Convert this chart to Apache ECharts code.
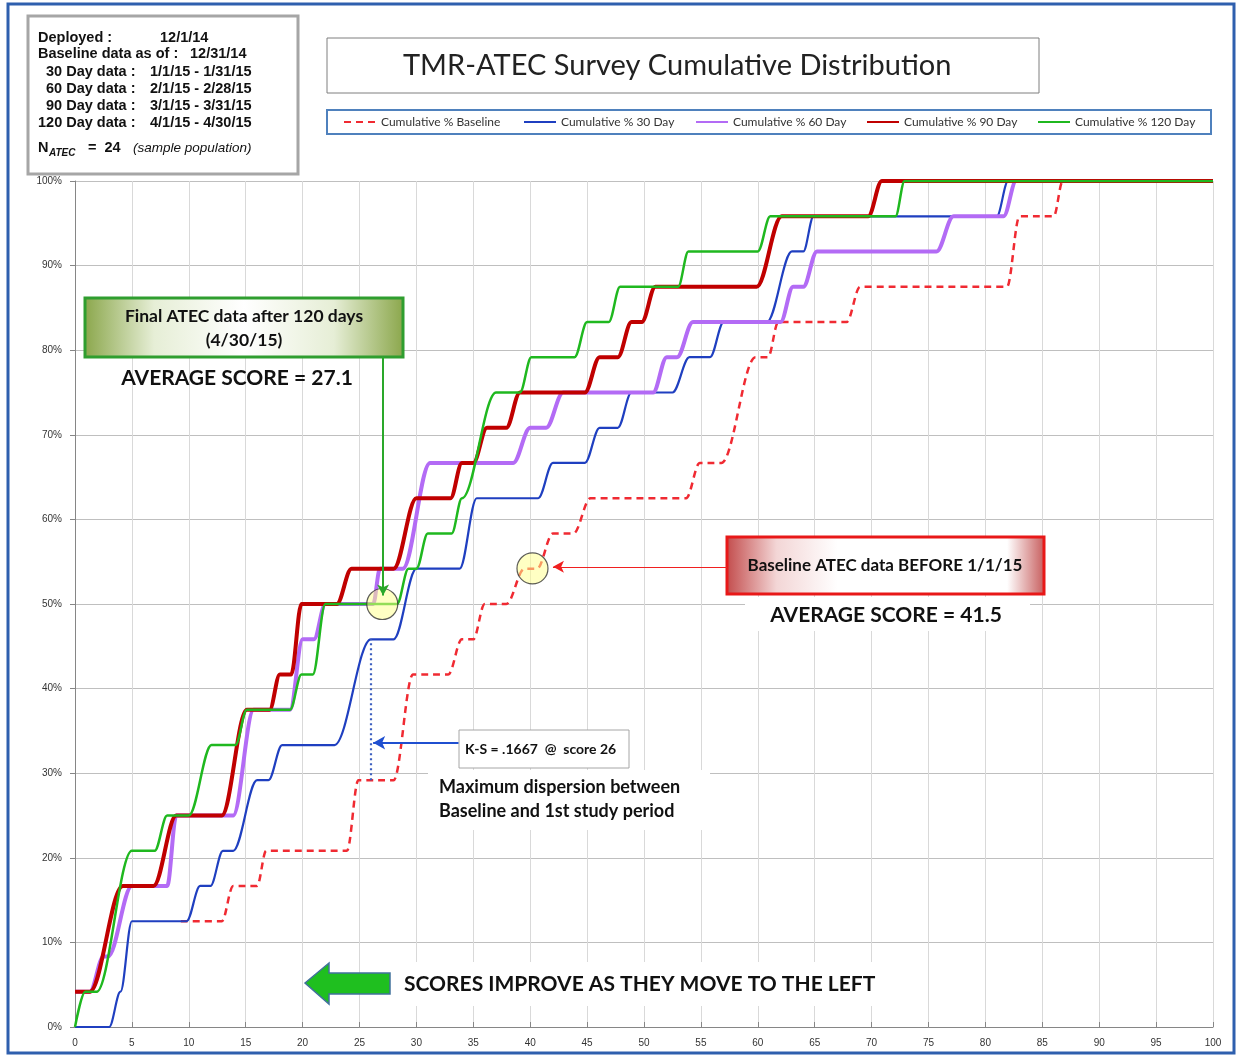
<!DOCTYPE html>
<html>
<head>
<meta charset="utf-8">
<title>TMR-ATEC Survey Cumulative Distribution</title>
<script src="https://cdn.jsdelivr.net/npm/echarts@6/dist/echarts.min.js"></script>
<style>
  body { margin: 0; background: #fff; }
  #main { width: 1237px; height: 1055px; }
</style>
</head>
<body>
<div id="main"></div>
<script>
// 图例名称
var seriesNames = ['Cumulative % Baseline', 'Cumulative % 30 Day', 'Cumulative % 60 Day', 'Cumulative % 90 Day', 'Cumulative % 120 Day'];

// [score, cumulative %] 读自原图（基线前段被30天曲线盖住，从可见处开始）
var baselinePts = [[9.3,12.5],[12.9,12.5],[13.9,16.67],[16,16.67],[16.8,20.83],[23.9,20.83],[24.9,29.17],[28,29.17],[29.7,41.67],[32.8,41.67],[34,45.83],[35,45.83],[36,50],[37.9,50],[39.5,54.17],[40.6,54.17],[42,58.33],[43.8,58.33],[45.3,62.5],[53.7,62.5],[54.9,66.67],[56.8,66.67],[59.8,79.17],[60.9,79.17],[61.8,83.33],[67.8,83.33],[69,87.5],[81.9,87.5],[83,95.83],[86,95.83],[86.8,100],[100,100]];
var day30Pts = [[0,0],[2.2,0],[3,0],[4,4.17],[5,12.5],[9.8,12.5],[11,16.67],[11.9,16.67],[13,20.83],[13.9,20.83],[16,29.17],[17,29.17],[18.2,33.33],[22.8,33.33],[26,45.83],[28,45.83],[30,54.17],[33.8,54.17],[35.3,62.5],[40.7,62.5],[42,66.67],[44.8,66.67],[46.1,70.83],[47.7,70.83],[48.9,75],[52.5,75],[54,79.17],[55.8,79.17],[57,83.33],[60.8,83.33],[63,91.67],[64,91.67],[64.9,95.83],[81,95.83],[82,100],[100,100]];
var day60Pts = [[0,4.17],[1.3,4.17],[2.5,8.33],[2.9,8.33],[5,16.67],[8.1,16.67],[8.9,25],[13.9,25],[15.7,37.5],[18.9,37.5],[20,45.83],[21,45.83],[22,50],[26.2,50],[26.8,54.17],[28.8,54.17],[31.2,66.67],[38.5,66.67],[40,70.83],[41.4,70.83],[42.9,75],[50.8,75],[52,79.17],[52.9,79.17],[54.3,83.33],[62,83.33],[63.1,87.5],[64,87.5],[65.2,91.67],[75.7,91.67],[77.2,95.83],[81.6,95.83],[82.7,100],[100,100]];
var day90Pts = [[0,4.17],[1.3,4.17],[4.2,16.67],[6.9,16.67],[8.9,25],[12.9,25],[15.1,37.5],[17.1,37.5],[18,41.67],[19,41.67],[19.9,50],[23,50],[24.3,54.17],[28,54.17],[30,62.5],[33,62.5],[34,66.67],[35,66.67],[36.2,70.83],[37.9,70.83],[39.1,75],[44.8,75],[46.1,79.17],[47.7,79.17],[48.9,83.33],[49.8,83.33],[51,87.5],[59.9,87.5],[62.1,95.83],[69.7,95.83],[70.9,100],[100,100]];
var day120Pts = [[0,0],[0.9,4.17],[1.9,4.17],[5,20.83],[7,20.83],[8.1,25],[10,25],[12,33.33],[14.1,33.33],[15.1,37.5],[18.9,37.5],[19.9,41.67],[20.9,41.67],[22,50],[28.3,50],[29.3,54.17],[30,54.17],[31,58.33],[33.1,58.33],[34,62.5],[37,75],[39.1,75],[40.1,79.17],[43.9,79.17],[45,83.33],[46.9,83.33],[47.9,87.5],[53,87.5],[53.9,91.67],[60,91.67],[61.1,95.83],[72.1,95.83],[72.9,100],[100,100]];

// 标注用的点
var circlePts = [[27,50],[40.2,54.2]];
var ksLine = [[26,29.17],[26,45.83]];      // K-S 最大差
var ksArrow = [[33.7,33.6],[26.2,33.6]];
var baseArrow = [[57.3,54.4],[42,54.4]];
var finalArrow = [[27.07,79.2],[27.07,51]];

var myChart = echarts.init(document.getElementById('main'));

// 文字小工具
function txt(x, y, s, font, color, align) {
    return {
        type: 'text', x: x, y: y, z: 5,
        style: { text: s, font: font, fill: color || '#111', textAlign: align || 'left', textVerticalAlign: 'middle' }
    };
}
function box(x, y, w, h, stroke, lw, fill) {
    return {
        type: 'rect', z: 1,
        shape: { x: x, y: y, width: w, height: h },
        style: { stroke: stroke, lineWidth: lw, fill: fill || 'none' }
    };
}

var infoFont = 'bold 14.5px "Liberation Sans", Arial, sans-serif';
var calFont = function (sz) { return 'bold ' + sz + 'px Lato, "Open Sans", sans-serif'; };

var graphics = [
    box(8, 4, 1226, 1049, '#2e5fae', 3),
    box(28, 16, 270, 158, '#a6a6a6', 3, '#fff'),
    txt(38, 38, 'Deployed :', infoFont),
    txt(160, 38, '12/1/14', infoFont),
    txt(38, 54, 'Baseline data as of :', infoFont),
    txt(190, 54, '12/31/14', infoFont),
    txt(46, 72, '30 Day data :', infoFont),
    txt(150, 72, '1/1/15 - 1/31/15', infoFont),
    txt(46, 89, '60 Day data :', infoFont),
    txt(150, 89, '2/1/15 - 2/28/15', infoFont),
    txt(46, 106, '90 Day data :', infoFont),
    txt(150, 106, '3/1/15 - 3/31/15', infoFont),
    txt(38, 123, '120 Day data :', infoFont),
    txt(150, 123, '4/1/15 - 4/30/15', infoFont),
    txt(38, 148, 'N', infoFont),
    txt(49, 153, 'ATEC', 'bold italic 10px "Liberation Sans", Arial, sans-serif'),
    txt(88, 148, '=  24', infoFont),
    txt(133, 148, '(sample population)', 'italic 13.5px "Liberation Sans", Arial, sans-serif'),

    box(327, 38, 712, 55, '#7f7f7f', 1, '#fff'),
    box(327, 110, 884, 24, '#4f81bd', 2, '#fff'),

    // 绿色框
    {
        type: 'rect', z: 1,
        shape: { x: 85, y: 298, width: 318, height: 59 },
        style: {
            stroke: '#2f9e2f', lineWidth: 3,
            fill: new echarts.graphic.LinearGradient(0, 0, 1, 0, [
                { offset: 0, color: '#8aa64a' }, { offset: 0.22, color: '#e6eed6' },
                { offset: 0.5, color: '#ffffff' }, { offset: 0.78, color: '#e6eed6' }, { offset: 1, color: '#8aa64a' }
            ])
        }
    },
    txt(244, 316, 'Final ATEC data after 120 days', calFont(17.5), '#111', 'center'),
    txt(244, 340, '(4/30/15)', calFont(17.5), '#111', 'center'),
    txt(237, 378, 'AVERAGE SCORE = 27.1', calFont(21), '#111', 'center'),

    // K-S
    box(459, 730, 170, 38, '#a6a6a6', 1, '#fff'),
    txt(465, 749, 'K-S = .1667  @  score 26', calFont(14)),
    box(428, 770, 282, 60, 'none', 0, '#fff'),
    txt(439, 787, 'Maximum dispersion between', calFont(18)),
    txt(439, 811, 'Baseline and 1st study period', calFont(18)),

    // 红色框
    {
        type: 'rect', z: 1,
        shape: { x: 727, y: 537, width: 317, height: 57 },
        style: {
            stroke: '#e81818', lineWidth: 3,
            fill: new echarts.graphic.LinearGradient(0, 0, 1, 0, [
                { offset: 0, color: '#c24a4a' }, { offset: 0.16, color: '#f3d6d6' },
                { offset: 0.35, color: '#ffffff' }, { offset: 0.88, color: '#ffffff' }, { offset: 1, color: '#c65a5a' }
            ])
        }
    },
    txt(885, 566, 'Baseline ATEC data BEFORE 1/1/15', calFont(17), '#111', 'center'),
    box(745, 597, 285, 34, 'none', 0, '#fff'),
    txt(886, 615, 'AVERAGE SCORE = 41.5', calFont(21), '#111', 'center'),

    // 绿色箭头
    {
        type: 'polygon', z: 3,
        shape: { points: [[305, 983], [329, 963], [329, 973], [390, 973], [390, 994], [329, 994], [329, 1004]] },
        style: { fill: '#1fbf1f', stroke: '#41719c', lineWidth: 1.5 }
    },
    box(398, 962, 486, 44, 'none', 0, '#fff'),
    txt(404, 984, 'SCORES IMPROVE AS THEY MOVE TO THE LEFT', calFont(21))
];

function curve(name, pts, color, width, type) {
    return {
        name: name, type: 'line', data: pts,
        symbol: 'none', smooth: 0.35, smoothMonotone: 'x',
        lineStyle: { color: color, width: width, type: type || 'solid' },
        itemStyle: { color: color },
        emphasis: { disabled: true }
    };
}

// 每个图例单独放，间距和原图一致
var legendLeft = [343, 523, 695, 866, 1037];
var legends = seriesNames.map(function (n, i) {
    return {
        data: [n], left: legendLeft[i], top: 116, padding: 0,
        itemWidth: 32, itemHeight: 10,
        itemStyle: { opacity: 0 },
        textStyle: { fontSize: 12, color: '#333', fontFamily: 'Lato, sans-serif' }
    };
});

var option = {
    animation: false,
    backgroundColor: '#fff',
    title: {
        text: 'TMR-ATEC Survey Cumulative Distribution',
        left: 398, top: 46,
        textStyle: { fontFamily: 'Lato, "Open Sans", sans-serif', fontWeight: 'normal', fontSize: 29, color: '#222' }
    },
    legend: legends,
    grid: { left: 75, right: 24, top: 181, bottom: 28, containLabel: false },
    xAxis: {
        type: 'value', min: 0, max: 100, interval: 5,
        axisLine: { lineStyle: { color: '#868686' } },
        axisTick: { inside: true, length: 5, lineStyle: { color: '#868686' } },
        axisLabel: { fontSize: 10, color: '#333', margin: 11 },
        splitLine: { lineStyle: { color: '#d9d9d9' } }
    },
    yAxis: {
        type: 'value', min: 0, max: 100, interval: 10,
        axisLine: { show: true, lineStyle: { color: '#868686' } },
        axisTick: { show: true, length: 5, lineStyle: { color: '#868686' } },
        axisLabel: { fontSize: 10, color: '#333', margin: 13, formatter: '{value}%' },
        splitLine: { lineStyle: { color: '#bfbfbf' } }
    },
    graphic: graphics,
    series: [
        curve(seriesNames[0], baselinePts, '#f02a32', 2.5, [7, 5]),
        curve(seriesNames[1], day30Pts, '#1f3fc0', 2.2),
        curve(seriesNames[2], day60Pts, '#b36bf5', 4),
        curve(seriesNames[3], day90Pts, '#c00000', 4),
        curve(seriesNames[4], day120Pts, '#1fb81f', 2.5),
        {
            name: 'circles', type: 'scatter', data: circlePts,
            symbolSize: 31, z: 3,
            itemStyle: { color: 'rgba(255,255,140,0.65)', borderColor: '#333', borderWidth: 1.2 },
            emphasis: { disabled: true }
        },
        {
            name: 'notes', type: 'line', data: [], z: 4,
            markLine: {
                silent: true, animation: false,
                label: { show: false },
                data: [
                    [{ coord: ksLine[0], symbol: 'none' }, { coord: ksLine[1], symbol: 'none', lineStyle: { color: '#3c5fc0', width: 2.2, type: [2, 3] } }],
                    [{ coord: ksArrow[0], symbol: 'none' }, { coord: ksArrow[1], symbol: 'arrow', symbolSize: [10, 12], lineStyle: { color: '#1f4fd0', width: 2, type: 'solid' } }],
                    [{ coord: baseArrow[0], symbol: 'none' }, { coord: baseArrow[1], symbol: 'arrow', symbolSize: [9, 11], lineStyle: { color: '#f02020', width: 1.2, type: 'solid' } }],
                    [{ coord: finalArrow[0], symbol: 'none' }, { coord: finalArrow[1], symbol: 'arrow', symbolSize: [9, 11], lineStyle: { color: '#2aa82a', width: 2, type: 'solid' } }]
                ]
            }
        }
    ]
};

myChart.setOption(option);
</script>
</body>
</html>
